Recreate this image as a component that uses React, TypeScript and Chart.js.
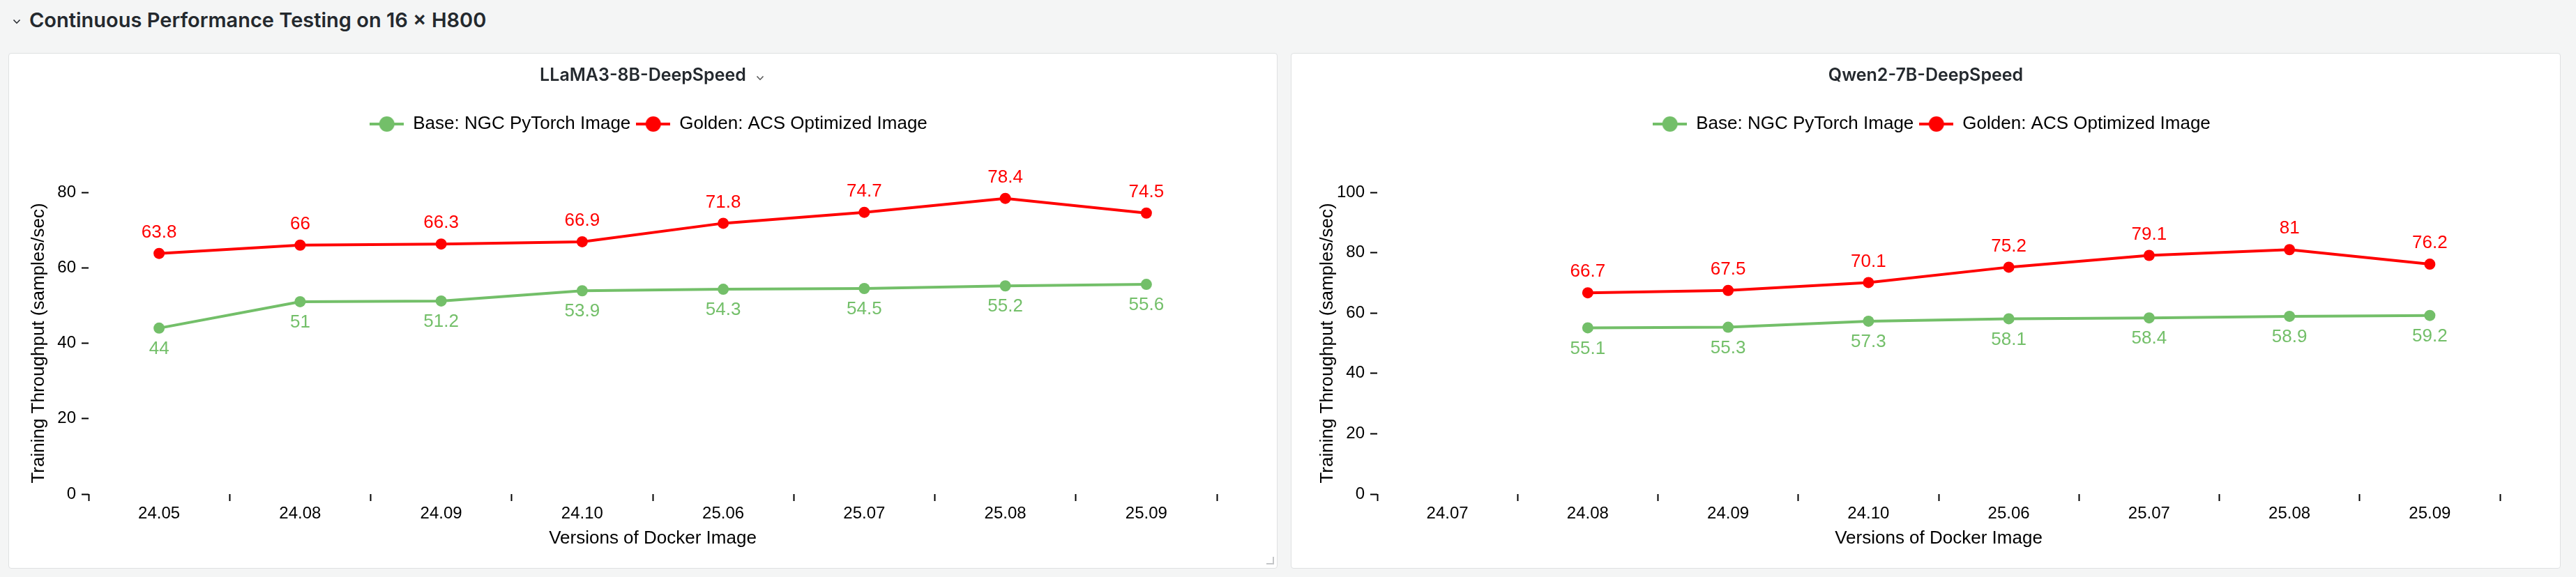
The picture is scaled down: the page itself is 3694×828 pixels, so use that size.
import React, { useEffect, useRef } from "react";
import { Chart, registerables } from "chart.js";

Chart.register(...registerables);

// ---------- data ----------
const headerTitle = "Continuous Performance Testing on 16 × H800";
const seriesNames = ["Base: NGC PyTorch Image", "Golden: ACS Optimized Image"];
const xAxisTitle = "Versions of Docker Image";
const yAxisTitle = "Training Throughput (samples/sec)";

const llamaTitle = "LLaMA3-8B-DeepSpeed";
const llamaCategories = ["24.05", "24.08", "24.09", "24.10", "25.06", "25.07", "25.08", "25.09"];
const llamaBase = [44, 51, 51.2, 53.9, 54.3, 54.5, 55.2, 55.6];
const llamaGolden = [63.8, 66, 66.3, 66.9, 71.8, 74.7, 78.4, 74.5];
const llamaYTicks = [0, 20, 40, 60, 80];

const qwenTitle = "Qwen2-7B-DeepSpeed";
const qwenCategories = ["24.07", "24.08", "24.09", "24.10", "25.06", "25.07", "25.08", "25.09"];
const qwenBase = [null, 55.1, 55.3, 57.3, 58.1, 58.4, 58.9, 59.2];
const qwenGolden = [null, 66.7, 67.5, 70.1, 75.2, 79.1, 81, 76.2];
const qwenYTicks = [0, 20, 40, 60, 80, 100];

// ---------- styles ----------
const GREEN = "#73bf69";
const RED = "#ff0000";
const CHART_FONT = "'Liberation Sans', Arial, Helvetica, sans-serif";
const UI_FONT = "Inter, 'Liberation Sans', Arial, sans-serif";
const TEXT_DARK = "#24292e";

Chart.defaults.font.family = CHART_FONT;

function legendSwatch(color: string): HTMLCanvasElement {
  const c = document.createElement("canvas");
  c.width = 49;
  c.height = 24;
  const g = c.getContext("2d")!;
  g.strokeStyle = color;
  g.lineWidth = 4;
  g.beginPath();
  g.moveTo(0, 12);
  g.lineTo(49, 12);
  g.stroke();
  g.fillStyle = color;
  g.beginPath();
  g.arc(24.5, 12, 11, 0, Math.PI * 2);
  g.fill();
  return c;
}

const valueLabels = {
  id: "valueLabels",
  afterDatasetsDraw(chart: any) {
    const ctx = chart.ctx;
    chart.data.datasets.forEach((ds: any, i: number) => {
      const meta = chart.getDatasetMeta(i);
      const dir = ds.labelSide === "above" ? -1 : 1;
      ctx.save();
      ctx.font = `26px ${CHART_FONT}`;
      ctx.fillStyle = ds.borderColor;
      ctx.textAlign = "center";
      ctx.textBaseline = "middle";
      meta.data.forEach((pt: any, j: number) => {
        const v = ds.data[j];
        if (v === null || v === undefined) return;
        ctx.fillText(String(v), pt.x, pt.y + dir * 30);
      });
      ctx.restore();
    });
  },
};

const legendSpacer = {
  id: "legendSpacer",
  beforeLayout(chart: any, _args: any, opts: any) {
    const lg = chart.legend;
    if (lg && !lg.__spacerPatched) {
      const orig = lg.fit;
      lg.fit = function () {
        orig.call(this);
        this.height += opts.extra || 0;
      };
      lg.__spacerPatched = true;
    }
  },
  afterLayout(chart: any, _args: any, opts: any) {
    const lg = chart.legend;
    if (lg) {
      lg.left += opts.shiftX || 0;
      lg.right += opts.shiftX || 0;
    }
  },
};

type ChartProps = {
  width: number;
  height: number;
  categories: string[];
  base: (number | null)[];
  golden: (number | null)[];
  yTicks: number[];
  yAxisWidth: number;
  yTitlePad: number;
  legendShift: number;
};

function ThroughputChart(p: ChartProps) {
  const ref = useRef<HTMLCanvasElement>(null);
  useEffect(() => {
    if (!ref.current) return;
    const swatches = [legendSwatch(GREEN), legendSwatch(RED)];
    const chart = new Chart(ref.current, {
      type: "line",
      data: {
        labels: p.categories,
        datasets: [
          {
            label: seriesNames[0],
            data: p.base,
            borderColor: GREEN,
            backgroundColor: GREEN,
            pointBackgroundColor: GREEN,
            borderWidth: 4,
            pointRadius: 8,
            pointHoverRadius: 8,
            pointBorderWidth: 0,
            tension: 0,
            clip: false,
            labelSide: "below",
          } as any,
          {
            label: seriesNames[1],
            data: p.golden,
            borderColor: RED,
            backgroundColor: RED,
            pointBackgroundColor: RED,
            borderWidth: 4,
            pointRadius: 8,
            pointHoverRadius: 8,
            pointBorderWidth: 0,
            tension: 0,
            clip: false,
            labelSide: "above",
          } as any,
        ],
      },
      options: {
        animation: false,
        responsive: false,
        devicePixelRatio: 1,
        events: [],
        layout: { padding: { top: 81, right: 87, bottom: 0, left: 0 } },
        plugins: {
          tooltip: { enabled: false },
          title: { display: false },
          legend: {
            position: "top",
            fullSize: false,
            labels: {
              usePointStyle: true,
              pointStyleWidth: 49,
              padding: 8,
              color: "#000",
              font: { size: 26, family: CHART_FONT },
              generateLabels: (chart: any) => {
                const items = (Chart.defaults.plugins.legend.labels as any).generateLabels(chart);
                return items.map((it: any) => ({ ...it, pointStyle: swatches[it.datasetIndex] }));
              },
            },
          },
          legendSpacer: { extra: 75, shiftX: p.legendShift },
        } as any,
        scales: {
          x: {
            type: "category",
            offset: true,
            grid: {
              display: true,
              offset: true,
              drawOnChartArea: false,
              drawTicks: true,
              tickLength: 10,
              tickWidth: 2,
              tickColor: "#000",
            },
            border: { display: false },
            ticks: {
              color: "#000",
              font: { size: 24 },
              padding: 4,
              maxRotation: 0,
              autoSkip: false,
            },
            title: {
              display: true,
              text: xAxisTitle,
              color: "#000",
              font: { size: 26 },
              padding: { top: 0, bottom: 28 },
            },
            afterFit: (s: any) => {
              s.height = 107;
            },
          },
          y: {
            min: p.yTicks[0],
            max: p.yTicks[p.yTicks.length - 1],
            grid: {
              display: true,
              drawOnChartArea: false,
              drawTicks: true,
              tickLength: 10,
              tickWidth: 2,
              tickColor: "#000",
            },
            border: { display: false },
            ticks: {
              color: "#000",
              font: { size: 24 },
              padding: 8,
            },
            afterBuildTicks: (s: any) => {
              s.ticks = p.yTicks.map((v) => ({ value: v }));
            },
            title: {
              display: true,
              text: yAxisTitle,
              color: "#000",
              font: { size: 26 },
              padding: { top: p.yTitlePad, bottom: 0 },
            },
            afterFit: (s: any) => {
              s.width = p.yAxisWidth;
            },
          },
        },
      },
      plugins: [valueLabels, legendSpacer],
    });
    return () => chart.destroy();
  }, []);
  return (
    <canvas
      ref={ref}
      width={p.width}
      height={p.height}
      style={{ position: "absolute", left: 0, top: 0, width: p.width, height: p.height, display: "block" }}
    />
  );
}

function Chevron({ style, color }: { style: React.CSSProperties; color: string }) {
  return (
    <svg width="12" height="8" viewBox="0 0 12 8" style={style}>
      <polyline points="1.5,1.5 6,6.2 10.5,1.5" fill="none" stroke={color} strokeWidth="1.6" />
    </svg>
  );
}

type PanelProps = {
  left: number;
  top: number;
  width: number;
  height: number;
  title: string;
  titleChevron?: boolean;
  resizeHandle?: boolean;
  children?: React.ReactNode;
};

function Panel(p: PanelProps) {
  return (
    <div style={{ position: "absolute", left: p.left, top: p.top, width: p.width, height: p.height }}>
      <div
        style={{
          position: "absolute",
          inset: 0,
          background: "#ffffff",
          border: "1px solid #dfe1e2",
          borderRadius: 4,
          boxSizing: "border-box",
        }}
      />
      {p.children}
      <div
        style={{
          position: "absolute",
          left: 0,
          top: 13,
          width: "100%",
          textAlign: "center",
          fontFamily: UI_FONT,
          fontSize: 25,
          fontWeight: 600,
          lineHeight: "36px",
          color: TEXT_DARK,
          whiteSpace: "nowrap",
        }}
      >
        <span style={{ position: "relative" }}>
          {p.title}
          {p.titleChevron && (
            <Chevron color="#555" style={{ position: "absolute", left: "calc(100% + 14px)", top: 16 }} />
          )}
        </span>
      </div>
      {p.resizeHandle && (
        <div
          style={{
            position: "absolute",
            right: 5,
            bottom: 6,
            width: 9,
            height: 9,
            borderRight: "2px solid #c4c6c8",
            borderBottom: "2px solid #c4c6c8",
          }}
        />
      )}
    </div>
  );
}

export default function App() {
  return (
    <div
      style={{
        position: "fixed",
        left: 0,
        top: 0,
        width: 3694,
        height: 828,
        background: "#f4f5f5",
        overflow: "hidden",
      }}
    >
      <Chevron color={TEXT_DARK} style={{ position: "absolute", left: 18, top: 27 }} />
      <div
        style={{
          position: "absolute",
          left: 42,
          top: 10,
          height: 38,
          lineHeight: "38px",
          fontFamily: UI_FONT,
          fontSize: 29,
          fontWeight: 600,
          color: TEXT_DARK,
          whiteSpace: "nowrap",
        }}
      >
        {headerTitle}
      </div>
      <Panel left={12} top={76} width={1820} height={740} title={llamaTitle} titleChevron resizeHandle>
        <ThroughputChart
          width={1820}
          height={740}
          categories={llamaCategories}
          base={llamaBase}
          golden={llamaGolden}
          yTicks={llamaYTicks}
          yAxisWidth={115}
          yTitlePad={28}
          legendShift={-6}
        />
      </Panel>
      <Panel left={1851} top={76} width={1821} height={740} title={qwenTitle}>
        <ThroughputChart
          width={1821}
          height={740}
          categories={qwenCategories}
          base={qwenBase}
          golden={qwenGolden}
          yTicks={qwenYTicks}
          yAxisWidth={124}
          yTitlePad={37}
          legendShift={-10}
        />
      </Panel>
    </div>
  );
}
